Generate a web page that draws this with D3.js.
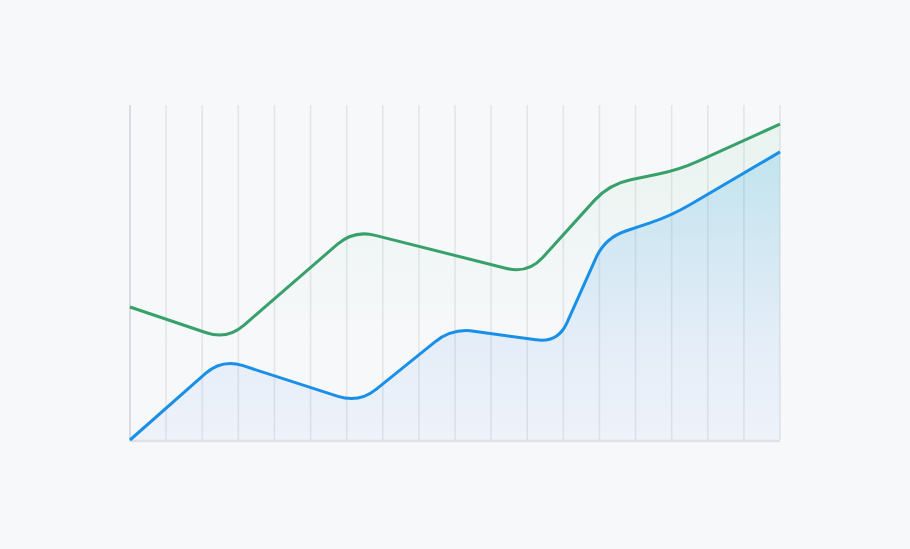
<!DOCTYPE html>
<html>
<head>
<meta charset="utf-8">
<script src="https://cdn.jsdelivr.net/npm/d3@7"></script>
<style>
html,body{margin:0;padding:0;background:#f7f8fa;}
svg{display:block;}
</style>
</head>
<body>
<svg id="chart" width="910" height="549"></svg>
<script>
// ---- data ----
const columns = d3.range(0, 19);               // vertical grid positions
const greenX = [0, 2.69, 6.2, 11.02, 13.27, 15.2, 18];
const greenY = [39.7, 29.9, 62.7, 49.6, 76.4, 80.6, 94.3];
const blueX  = [0, 2.55, 6.34, 8.92, 11.85, 13.15, 14.98, 18];
const blueY  = [0, 24.2, 11.0, 33.4, 29.0, 60.3, 66.9, 86.0];

const W = 910, H = 549;
const margin = {left: 130, right: 130, top: 105, bottom: 109};
const svg = d3.select("#chart");
svg.append("rect").attr("width", W).attr("height", H).attr("fill", "#f7f8fa");

const x = d3.scaleLinear().domain([0, 18]).range([margin.left, W - margin.right]);
const y = d3.scaleLinear().domain([0, 100]).range([H - margin.bottom, margin.top]);

// custom curve: straight segments with rounded corners
function roundedCurve(r) {
  return function(context) { return new Rounded(context, r); };
}
function Rounded(ctx, r) { this._ctx = ctx; this._r = r; }
Rounded.prototype = {
  areaStart() { this._line = 0; },
  areaEnd() { this._line = NaN; },
  lineStart() { this._pts = []; },
  point(px, py) { this._pts.push([+px, +py]); },
  lineEnd() {
    const p = this._pts, c = this._ctx, n = p.length;
    if (n) {
      if (this._line) c.lineTo(p[0][0], p[0][1]); else c.moveTo(p[0][0], p[0][1]);
      for (let i = 1; i < n - 1; i++) {
        const [x0, y0] = p[i - 1], [x1, y1] = p[i], [x2, y2] = p[i + 1];
        const d1 = Math.hypot(x1 - x0, y1 - y0), d2 = Math.hypot(x2 - x1, y2 - y1);
        const r = Math.min(this._r, d1 / 2, d2 / 2);
        if (r < 0.5 || d1 === 0 || d2 === 0) { c.lineTo(x1, y1); continue; }
        const ax = x1 + (x0 - x1) * r / d1, ay = y1 + (y0 - y1) * r / d1;
        const bx = x1 + (x2 - x1) * r / d2, by = y1 + (y2 - y1) * r / d2;
        c.lineTo(ax, ay);
        c.quadraticCurveTo(x1, y1, bx, by);
      }
      if (n > 1) c.lineTo(p[n - 1][0], p[n - 1][1]);
    }
    if (this._line || (this._line !== 0 && n === 1)) c.closePath();
    this._line = 1 - this._line;
  }
};
const curve = roundedCurve(22);

const green = greenX.map((v, i) => ({x: v, y: greenY[i]}));
const blue = blueX.map((v, i) => ({x: v, y: blueY[i]}));

// gradients
const defs = svg.append("defs");
const gG = defs.append("linearGradient").attr("id", "gGreen").attr("x1", 0).attr("y1", 0).attr("x2", 0).attr("y2", 1);
gG.append("stop").attr("offset", "0%").attr("stop-color", "rgb(70,190,120)").attr("stop-opacity", 0.08);
gG.append("stop").attr("offset", "70%").attr("stop-color", "rgb(70,190,120)").attr("stop-opacity", 0.0);
const gB = defs.append("linearGradient").attr("id", "gBlue").attr("x1", 0).attr("y1", 0).attr("x2", 0).attr("y2", 1);
gB.append("stop").attr("offset", "0%").attr("stop-color", "rgb(20,160,225)").attr("stop-opacity", 0.19);
gB.append("stop").attr("offset", "100%").attr("stop-color", "rgb(70,130,235)").attr("stop-opacity", 0.05);

// grid
svg.append("g").selectAll("line").data(columns.slice(1)).join("line")
  .attr("x1", d => x(d)).attr("x2", d => x(d))
  .attr("y1", y(100)).attr("y2", y(0))
  .attr("stroke", "#e3e5e9").attr("stroke-width", 1.6);

// areas
const area = d3.area().x(d => x(d.x)).y0(y(0)).y1(d => y(d.y)).curve(curve);
svg.append("path").datum(green).attr("d", area).attr("fill", "url(#gGreen)");
svg.append("path").datum(blue).attr("d", area).attr("fill", "url(#gBlue)");

// axes lines
svg.append("line").attr("x1", x(0)).attr("x2", x(0)).attr("y1", y(100)).attr("y2", y(0) + 1)
  .attr("stroke", "#d8dbdf").attr("stroke-width", 2);
svg.append("line").attr("x1", x(0) - 1).attr("x2", x(18)).attr("y1", y(0) + 1).attr("y2", y(0) + 1)
  .attr("stroke", "#dee1e5").attr("stroke-width", 2.5);

// lines
const line = d3.line().x(d => x(d.x)).y(d => y(d.y)).curve(curve);
svg.append("path").datum(green).attr("d", line).attr("fill", "none")
  .attr("stroke", "#38a06b").attr("stroke-width", 3).attr("stroke-linejoin", "round");
svg.append("path").datum(blue).attr("d", line).attr("fill", "none")
  .attr("stroke", "#1a8fe8").attr("stroke-width", 3).attr("stroke-linejoin", "round");
</script>
</body>
</html>
